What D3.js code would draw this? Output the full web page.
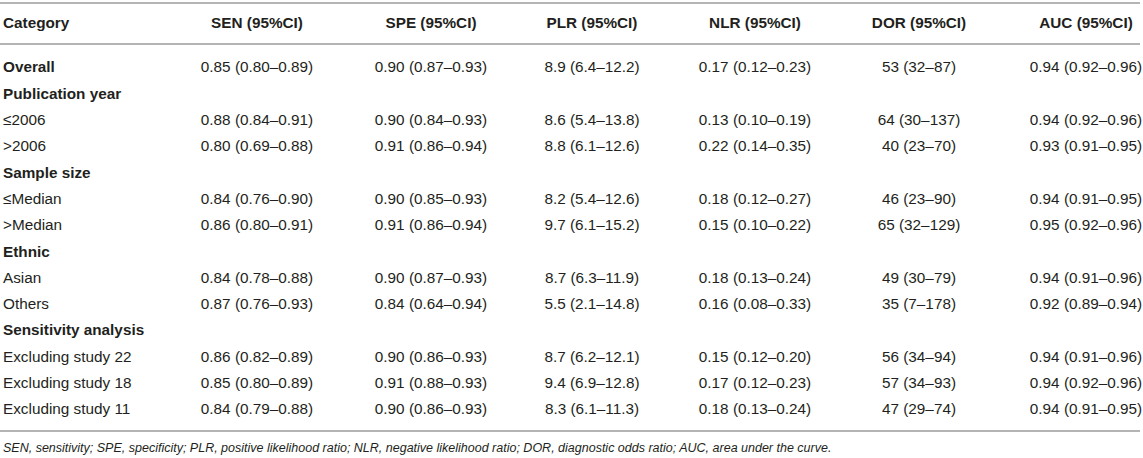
<!DOCTYPE html>
<html>
<head>
<meta charset="utf-8">
<script src="https://cdn.jsdelivr.net/npm/d3@7"></script>
<style>
  body { margin: 0; background: #fff; }
  svg { display: block; font-family: "Liberation Sans", Arial, Helvetica, sans-serif; }
</style>
</head>
<body>
<script>
var headers = ["Category", "SEN (95%CI)", "SPE (95%CI)", "PLR (95%CI)", "NLR (95%CI)", "DOR (95%CI)", "AUC (95%CI)"];

var categories = ["Overall", "Publication year", "\u22642006", ">2006", "Sample size", "\u2264Median", ">Median",
  "Ethnic", "Asian", "Others", "Sensitivity analysis", "Excluding study 22", "Excluding study 18", "Excluding study 11"];

// bold rows (overall + group titles)
var boldRows = ["Overall", "Publication year", "Sample size", "Ethnic", "Sensitivity analysis"];

var sen = ["0.85 (0.80\u20130.89)", "", "0.88 (0.84\u20130.91)", "0.80 (0.69\u20130.88)", "", "0.84 (0.76\u20130.90)", "0.86 (0.80\u20130.91)",
  "", "0.84 (0.78\u20130.88)", "0.87 (0.76\u20130.93)", "", "0.86 (0.82\u20130.89)", "0.85 (0.80\u20130.89)", "0.84 (0.79\u20130.88)"];
var spe = ["0.90 (0.87\u20130.93)", "", "0.90 (0.84\u20130.93)", "0.91 (0.86\u20130.94)", "", "0.90 (0.85\u20130.93)", "0.91 (0.86\u20130.94)",
  "", "0.90 (0.87\u20130.93)", "0.84 (0.64\u20130.94)", "", "0.90 (0.86\u20130.93)", "0.91 (0.88\u20130.93)", "0.90 (0.86\u20130.93)"];
var plr = ["8.9 (6.4\u201312.2)", "", "8.6 (5.4\u201313.8)", "8.8 (6.1\u201312.6)", "", "8.2 (5.4\u201312.6)", "9.7 (6.1\u201315.2)",
  "", "8.7 (6.3\u201311.9)", "5.5 (2.1\u201314.8)", "", "8.7 (6.2\u201312.1)", "9.4 (6.9\u201312.8)", "8.3 (6.1\u201311.3)"];
var nlr = ["0.17 (0.12\u20130.23)", "", "0.13 (0.10\u20130.19)", "0.22 (0.14\u20130.35)", "", "0.18 (0.12\u20130.27)", "0.15 (0.10\u20130.22)",
  "", "0.18 (0.13\u20130.24)", "0.16 (0.08\u20130.33)", "", "0.15 (0.12\u20130.20)", "0.17 (0.12\u20130.23)", "0.18 (0.13\u20130.24)"];
var dor = ["53 (32\u201387)", "", "64 (30\u2013137)", "40 (23\u201370)", "", "46 (23\u201390)", "65 (32\u2013129)",
  "", "49 (30\u201379)", "35 (7\u2013178)", "", "56 (34\u201394)", "57 (34\u201393)", "47 (29\u201374)"];
var auc = ["0.94 (0.92\u20130.96)", "", "0.94 (0.92\u20130.96)", "0.93 (0.91\u20130.95)", "", "0.94 (0.91\u20130.95)", "0.95 (0.92\u20130.96)",
  "", "0.94 (0.91\u20130.96)", "0.92 (0.89\u20130.94)", "", "0.94 (0.91\u20130.96)", "0.94 (0.92\u20130.96)", "0.94 (0.91\u20130.95)"];

var footnote = "SEN, sensitivity; SPE, specificity; PLR, positive likelihood ratio; NLR, negative likelihood ratio; DOR, diagnostic odds ratio; AUC, area under the curve.";

var width = 1143, height = 458;
var valueCols = [sen, spe, plr, nlr, dor, auc];

var svg = d3.select("body").append("svg")
  .attr("width", width)
  .attr("height", height);

// column centres
var x = d3.scaleOrdinal()
  .domain(headers.slice(1))
  .range([257, 431, 592, 755, 919, 1086]);

// row index -> row centre
var y = d3.scaleLinear()
  .domain([0, categories.length - 1])
  .range([67, 409]);

var ruleColor = "#b4b4b4";
var textColor = "#231f20";

// rules
[3, 44, 431].forEach(function(yy)
{
  svg.append("line")
    .attr("x1", 0).attr("x2", width - 3)
    .attr("y1", yy).attr("y2", yy)
    .attr("stroke", ruleColor)
    .attr("stroke-width", 2);
});

// header
var head = svg.append("g").attr("class", "header");
head.selectAll("text")
  .data(headers)
  .join("text")
  .attr("x", function(d, i) { return i === 0 ? 3 : x(d); })
  .attr("y", 23)
  .attr("dy", "0.35em")
  .attr("text-anchor", function(d, i) { return i === 0 ? "start" : "middle"; })
  .attr("font-size", "15.3px")
  .attr("font-weight", "bold")
  .attr("fill", textColor)
  .text(function(d) { return d; });

// body rows
var rows = svg.append("g").attr("class", "rows")
  .selectAll("g")
  .data(categories)
  .join("g")
  .attr("transform", function(d, i) { return "translate(0," + y(i) + ")"; });

rows.append("text")
  .attr("x", 3)
  .attr("dy", "0.35em")
  .attr("font-size", "15.3px")
  .attr("font-weight", function(d) { return boldRows.indexOf(d) >= 0 ? "bold" : "normal"; })
  .attr("fill", textColor)
  .text(function(d) { return d; });

rows.each(function(d, i)
{
  var g = d3.select(this);
  valueCols.forEach(function(col, c)
  {
    if (!col[i]) return;
    g.append("text")
      .attr("x", x(headers[c + 1]))
      .attr("dy", "0.35em")
      .attr("text-anchor", "middle")
      .attr("font-size", "15.3px")
      .attr("fill", textColor)
      .text(col[i]);
  });
});

// footnote
svg.append("text")
  .attr("x", 3)
  .attr("y", 448)
  .attr("dy", "0.35em")
  .attr("font-size", "12.5px")
  .attr("font-style", "italic")
  .attr("fill", textColor)
  .text(footnote);
</script>
</body>
</html>
